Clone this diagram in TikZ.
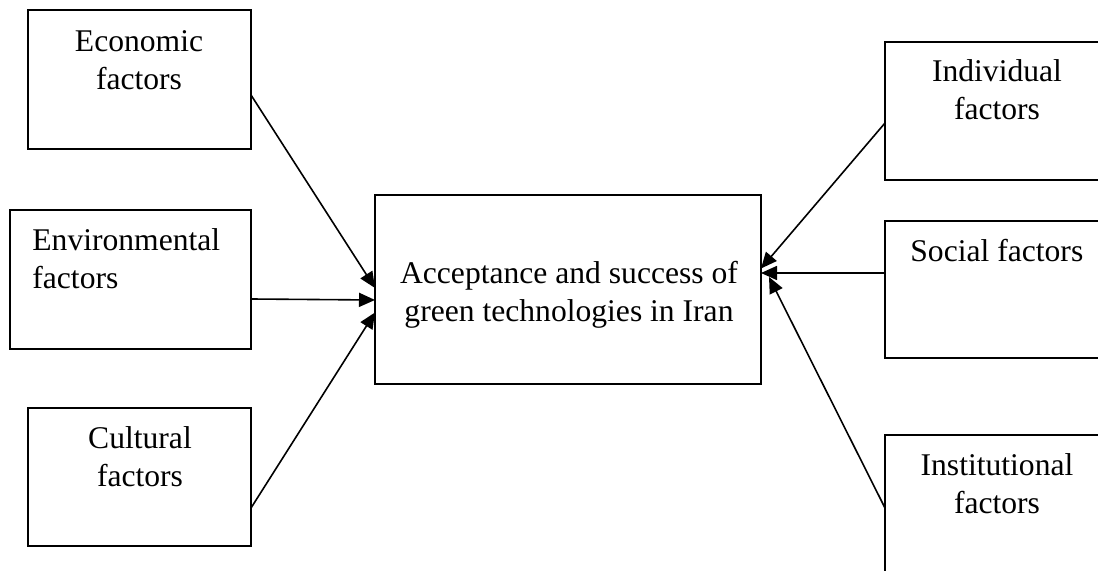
\documentclass[tikz,border=0pt]{standalone}
\usepackage{fontspec}
\setmainfont{Liberation Serif}
\usetikzlibrary{arrows.meta}
\begin{document}
\begin{tikzpicture}[x=0.5pt,y=-0.5pt,
  box/.style={draw,line width=1.25pt,inner sep=0pt,outer sep=0pt},
  lbl/.style={font=\fontsize{15.8}{19}\selectfont,inner sep=0pt,anchor=base,align=center},
  lbll/.style={lbl,anchor=base west,align=left},
  conn/.style={line width=0.8pt,-{Triangle[length=8pt,width=7pt]}}]
\useasboundingbox (0,0) rectangle (1098,571);
\clip (0,0) rectangle (1098,571);
% left boxes
\node[box,minimum width=111.5pt,minimum height=69.5pt] (eco) at (139.5,79.5) {};
\node[box,minimum width=120.5pt,minimum height=69.5pt] (env) at (130.5,279.5) {};
\node[box,minimum width=111.5pt,minimum height=69pt] (cul) at (139.5,477) {};
% center box
\node[box,minimum width=193pt,minimum height=94.5pt] (main) at (568,289.5) {};
% right boxes (cut off at the right edge)
\node[box,minimum width=120pt,minimum height=69pt] (ind) at (1005,111) {};
\node[box,minimum width=120pt,minimum height=68.5pt] (soc) at (1005,289.5) {};
\node[box,minimum width=120pt,minimum height=85pt] (ins) at (1005,520) {};
% labels (anchor = baseline of the last line)
\node[lbl] (teco) at (139,90) {Economic\\factors};
\node[lbll] (tenv) at (32,289) {Environmental\\factors};
\node[lbl] (tcul) at (140,487) {Cultural\\factors};
\node[lbl] (tmain) at (569,322) {Acceptance and success of\\green technologies in Iran};
\node[lbl] (tind) at (997,120) {Individual\\factors};
\node[lbll] (tsoc) at (910,262) {Social factors};
\node[lbl] (tins) at (997,514) {Institutional\\factors};
% connectors
\draw[conn] ([yshift=-7.75pt]eco.east) -- ([yshift=0.75pt]main.west);
\draw[conn] ([yshift=-9.75pt]env.east) -- ([yshift=-5.25pt]main.west);
\draw[conn] ([yshift=-15.5pt]cul.east) -- ([yshift=-11.5pt]main.west);
\draw[conn] ([yshift=-6pt]ind.west) -- ([yshift=10.5pt]main.east);
\draw[conn] ([yshift=8.25pt]soc.west) -- ([yshift=8.25pt]main.east);
\draw[conn] ([yshift=6pt]ins.west) -- ([xshift=4pt,yshift=6.25pt]main.east);
\end{tikzpicture}
\end{document}
